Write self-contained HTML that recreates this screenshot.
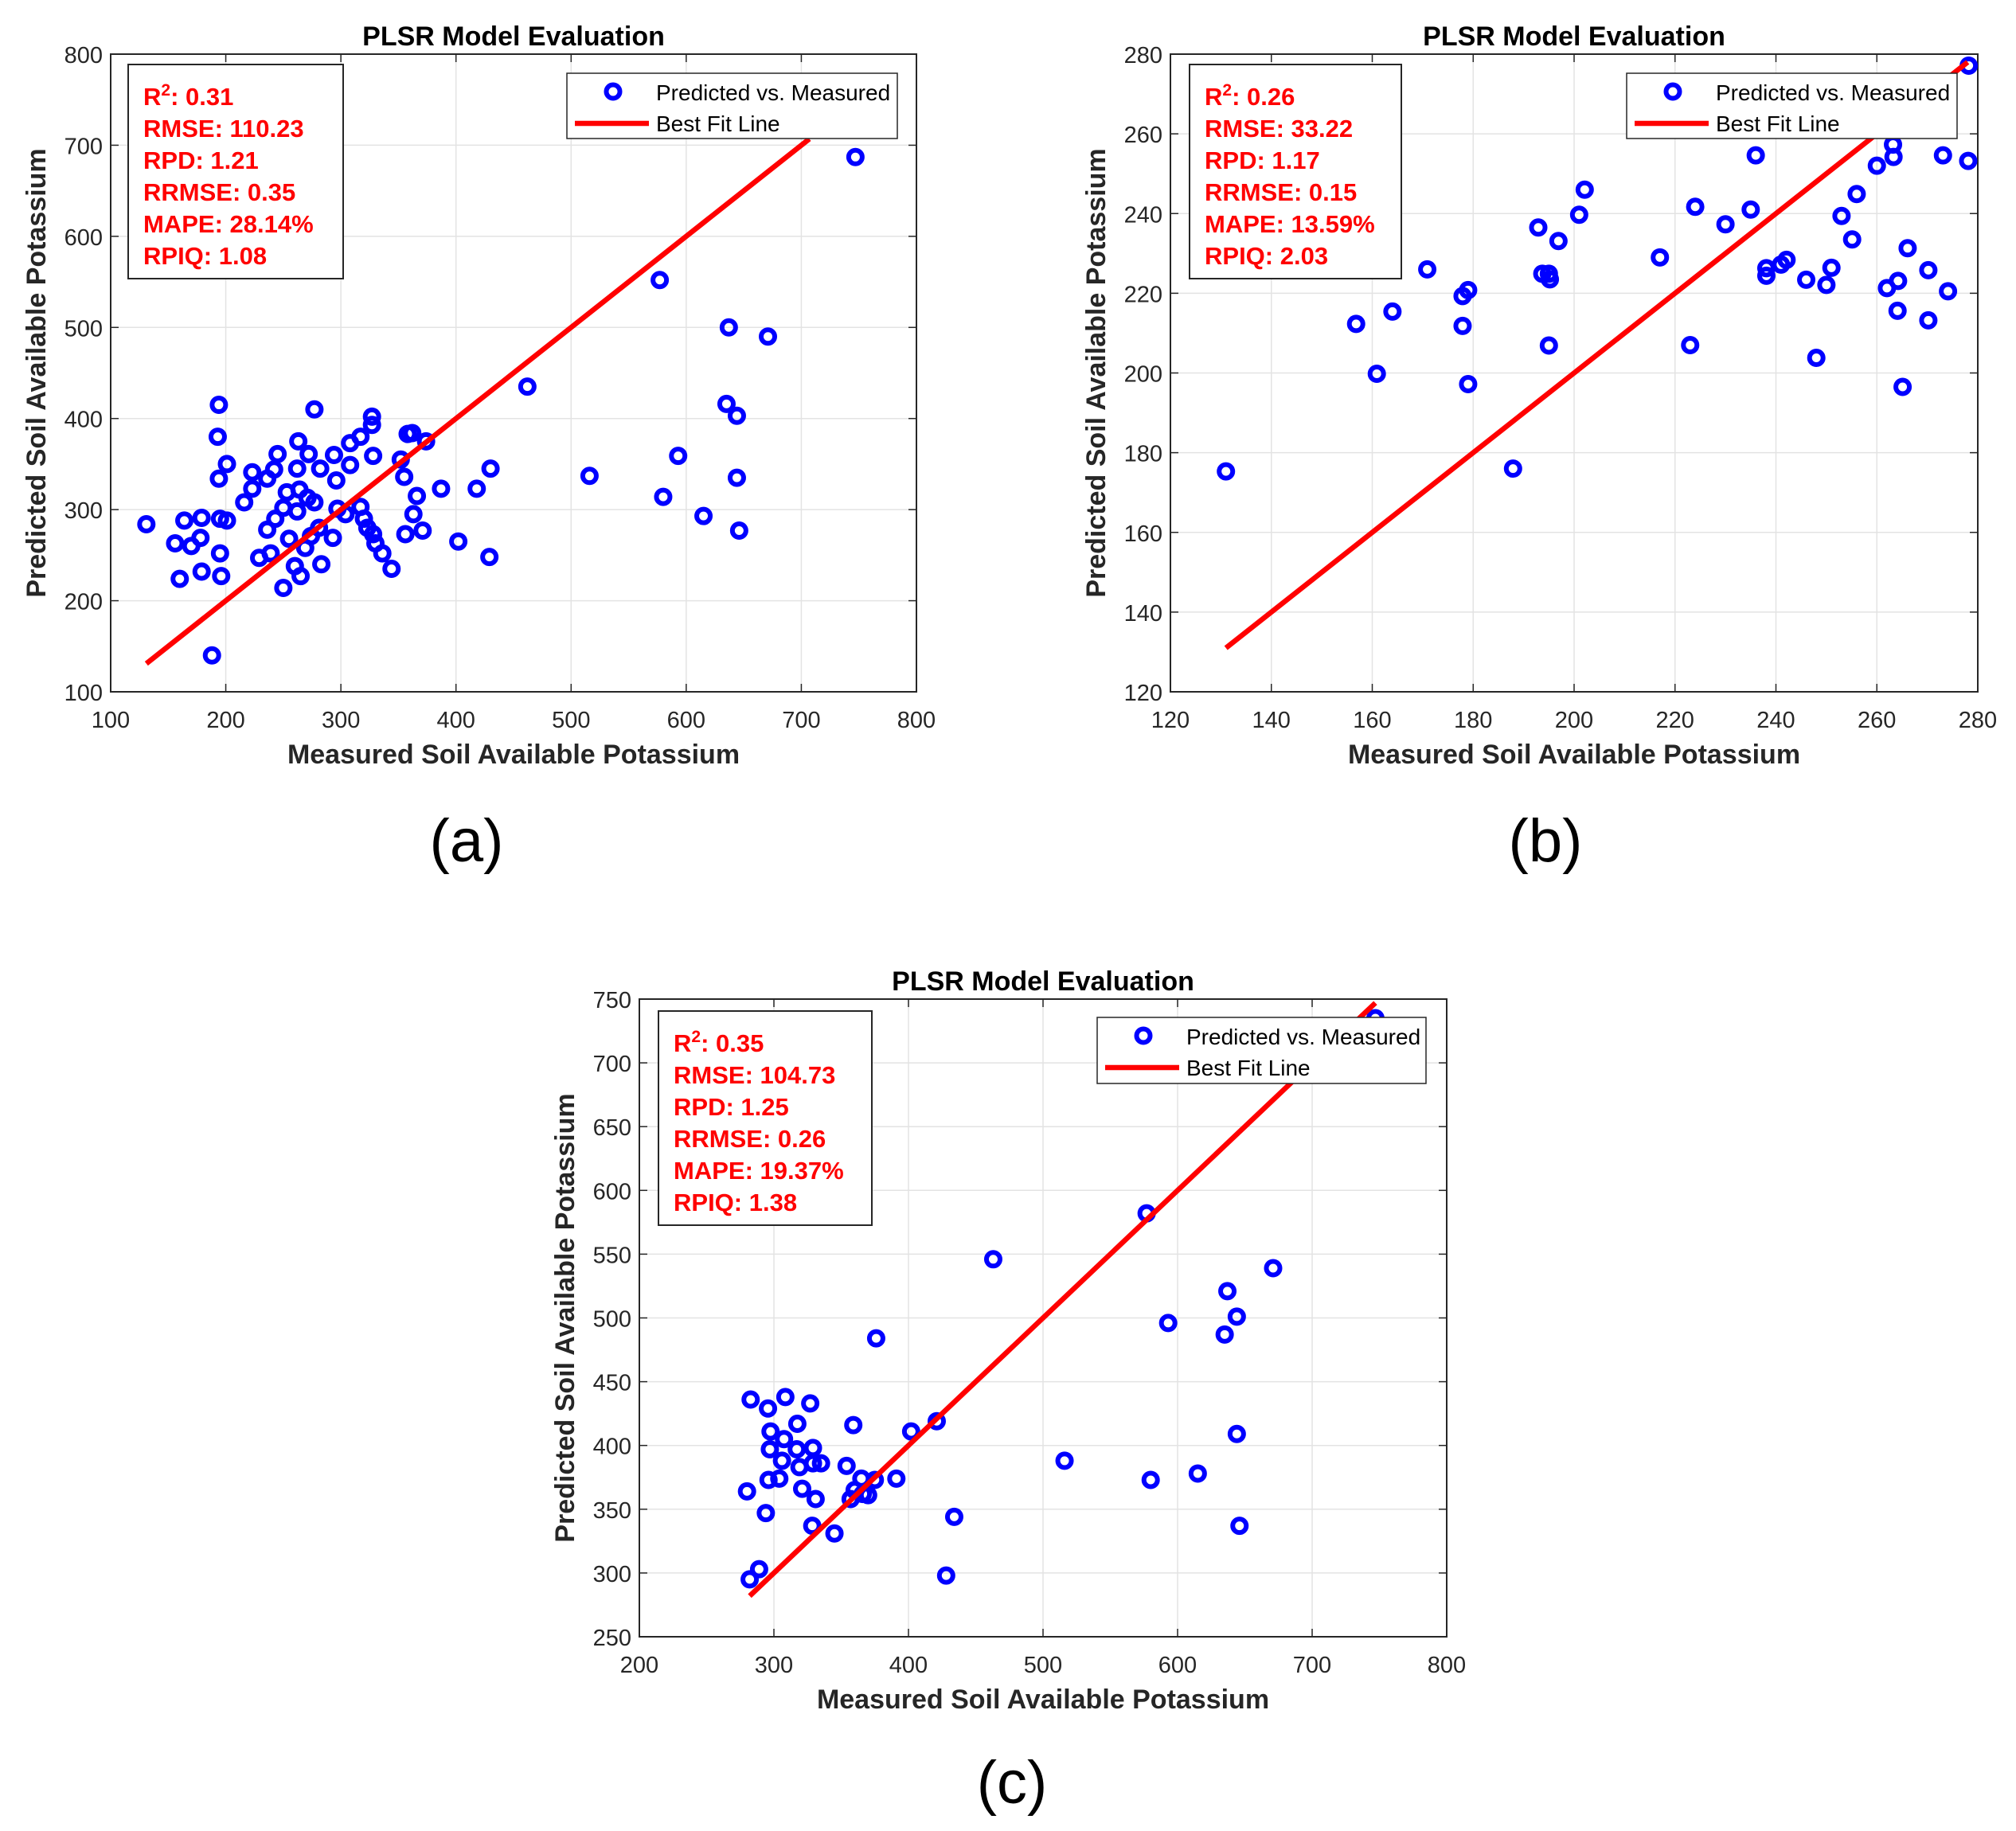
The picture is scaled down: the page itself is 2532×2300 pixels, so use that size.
<!DOCTYPE html>
<html><head><meta charset="utf-8"><style>
html,body{margin:0;padding:0;background:#fff;}
svg{display:block;}
text{font-family:"Liberation Sans",Arial,sans-serif;}
</style></head><body>
<svg id="fig" width="2532" height="2300" viewBox="0 0 2532 2300" xmlns="http://www.w3.org/2000/svg"></svg>
<script>
// ---- Chart (a) data ----
const aMeasured = [131,194,193,194,201,195,196,188,160,156,170,164,179,178,179,195,201,216,223,223,229,239,236,243,245,242,236,253,250,255,260,265,263,262,264,262,250,272,277,282,277,271,269,274,283,281,293,294,296,297,304,308,308,317,327,327,328,317,320,323,328,330,336,344,352,355,358,362,374,366,363,356,371,387,418,430,402,429,462,516,577,580,593,615,637,671,635,644,644,646,747];
const aPredicted = [284,415,380,334,350,252,227,140,224,263,260,288,291,269,232,290,288,308,341,323,247,252,278,290,361,344,334,319,214,268,238,227,375,345,322,298,302,361,410,345,308,313,258,271,240,280,269,360,332,301,295,373,349,380,402,393,359,303,290,280,273,263,252,235,355,336,383,384,375,315,295,273,277,323,323,345,265,248,435,337,552,314,359,293,500,490,416,403,335,277,687];
const aFit = [131,707];
const aXTicks = [100,200,300,400,500,600,700,800];
const aYTicks = [100,200,300,400,500,600,700,800];
const aStats = ["0.31","RMSE: 110.23","RPD: 1.21","RRMSE: 0.35","MAPE: 28.14%","RPIQ: 1.08"];
// ---- Chart (b) data ----
const bMeasured = [131,156.8,160.9,164,170.9,177.9,179,177.9,179,187.9,192.9,193.7,195,195.2,195,196.9,201,202.1,217,223,224,230,235,236,238.1,238.1,241,242.1,246,248,250,251,253,255.1,256,260,262,263.2,263.3,264.2,264.1,265.1,266.1,270.2,270.2,273.1,274.1,278.2,278.1];
const bPredicted = [175.3,212.3,199.8,215.4,226,219.3,220.8,211.8,197.2,176,236.5,224.9,224.9,223.5,206.9,233.1,239.7,246,229,207,241.7,237.3,241,254.6,226.3,224.4,227.2,228.4,223.4,203.8,222.1,226.4,239.4,233.5,244.9,252,221.3,257.3,254.2,223.1,215.6,196.5,231.3,225.8,213.2,254.6,220.5,277.1,253.2];
const bFit = [131,278];
const bXTicks = [120,140,160,180,200,220,240,260,280];
const bYTicks = [120,140,160,180,200,220,240,260,280];
const bStats = ["0.26","RMSE: 33.22","RPD: 1.17","RRMSE: 0.15","MAPE: 13.59%","RPIQ: 2.03"];
// ---- Chart (c) data ----
const cMeasured = [282.7,295.6,308.5,327,317.4,359,297.5,307.5,297,306,317,329,319,335,329,354,296,304,280,321,331,294,328.5,345,282,289,365,375,360,357,366,370,391,376,402,421,434,428,463,516,577,580,593,615,637,635,644,644,646,671,747];
const cPredicted = [436,429,438,433,417,416,411,405,397,388,397,398,383,386,386,384,373,374,364,366,358,347,337,331,295,303,374,373,365,358,362,361,374,484,411,419,344,298,546,388,582,373,496,378,521,487,501,409,337,539,735];
const cFit = [282,747];
const cXTicks = [200,300,400,500,600,700,800];
const cYTicks = [250,300,350,400,450,500,550,600,650,700,750];
const cStats = ["0.35","RMSE: 104.73","RPD: 1.25","RRMSE: 0.26","MAPE: 19.37%","RPIQ: 1.38"];

const NS = "http://www.w3.org/2000/svg";
const svg = document.getElementById('fig');
function mk(tag, attrs, parent) {
  const e = document.createElementNS(NS, tag);
  for (const k in attrs) e.setAttribute(k, attrs[k]);
  (parent || svg).appendChild(e);
  return e;
}

function drawChart(id, L, R, T, B, xs, ys, xT, yT, fit, stats, tbox, lbox, panelLabel, panelPos) {
  const g = mk('g', {});
  
  
  const xmin = xT[0], xmax = xT[xT.length - 1], ymin = yT[0], ymax = yT[yT.length - 1];
  const sx = v => L + (v - xmin) / (xmax - xmin) * (R - L);
  const sy = v => B - (v - ymin) / (ymax - ymin) * (B - T);
  xT.forEach(t => {
    const l = mk('line', {x1: sx(t), x2: sx(t), y1: T, y2: B, stroke: '#e3e3e3', 'stroke-width': 1.5}, g);
    
    
  });
  yT.forEach(t => {
    const l = mk('line', {x1: L, x2: R, y1: sy(t), y2: sy(t), stroke: '#e3e3e3', 'stroke-width': 1.5}, g);
    
    
  });
  xT.forEach(t => {
    mk('line', {x1: sx(t), x2: sx(t), y1: B, y2: B - 10, stroke: '#262626', 'stroke-width': 1.5}, g);
    mk('line', {x1: sx(t), x2: sx(t), y1: T, y2: T + 10, stroke: '#262626', 'stroke-width': 1.5}, g);
    const tx = mk('text', {x: sx(t), y: B + 45, 'text-anchor': 'middle', 'font-size': 29, fill: '#262626'}, g);
    
    
    tx.textContent = t;
  });
  yT.forEach(t => {
    mk('line', {x1: L, x2: L + 10, y1: sy(t), y2: sy(t), stroke: '#262626', 'stroke-width': 1.5}, g);
    mk('line', {x1: R, x2: R - 10, y1: sy(t), y2: sy(t), stroke: '#262626', 'stroke-width': 1.5}, g);
    const tx = mk('text', {x: L - 10, y: sy(t) + 11, 'text-anchor': 'end', 'font-size': 29, fill: '#262626'}, g);
    
    
    tx.textContent = t;
  });
  const fr = mk('rect', {x: L, y: T, width: R - L, height: B - T, fill: 'none', stroke: '#262626', 'stroke-width': 2}, g);
  
  
  xs.forEach((v, i) => {
    const c = mk('circle', {cx: sx(v), cy: sy(ys[i]), r: 8.5, fill: 'none', stroke: '#0000ff', 'stroke-width': 6}, g);
    
    
  });
  const fl = mk('line', {x1: sx(fit[0]), y1: sy(fit[0]), x2: sx(fit[1]), y2: sy(fit[1]), stroke: '#ff0000', 'stroke-width': 6.5}, g);
  
  
  const ti = mk('text', {x: (L + R) / 2, y: T - 11, 'text-anchor': 'middle', 'font-size': 34, 'font-weight': 'bold', fill: '#000'}, g);
  
  
  ti.textContent = 'PLSR Model Evaluation';
  const xl = mk('text', {x: (L + R) / 2, y: B + 90, 'text-anchor': 'middle', 'font-size': 34, 'font-weight': 'bold', fill: '#262626'}, g);
  
  
  xl.textContent = 'Measured Soil Available Potassium';
  const yx = L - 82, yy = (T + B) / 2;
  const yl = mk('text', {x: yx, y: yy, 'text-anchor': 'middle', 'font-size': 34, 'font-weight': 'bold', fill: '#262626', transform: `rotate(-90 ${yx} ${yy})`}, g);
  
  
  yl.textContent = 'Predicted Soil Available Potassium';
  const sb = mk('rect', {x: tbox[0], y: tbox[1], width: tbox[2], height: tbox[3], fill: '#fff', stroke: '#262626', 'stroke-width': 2}, g);
  
  
  stats.forEach((s, i) => {
    const t = mk('text', {x: tbox[0] + 19, y: tbox[1] + 51 + i * 40, 'font-size': 31, 'font-weight': 'bold', fill: '#ff0000'}, g);
    
    
    if (i === 0) {
      const a = mk('tspan', {}, t); a.textContent = 'R';
      const b = mk('tspan', {dy: -12, 'font-size': 21}, t); b.textContent = '2';
      const c = mk('tspan', {dy: 12}, t); c.textContent = ': ' + s;
    } else t.textContent = s;
  });
  const lg = mk('rect', {x: lbox[0], y: lbox[1], width: lbox[2], height: lbox[3], fill: '#fff', stroke: '#262626', 'stroke-width': 1.5}, g);
  
  
  const lc = mk('circle', {cx: lbox[0] + 58, cy: lbox[1] + 23, r: 8.5, fill: 'none', stroke: '#0000ff', 'stroke-width': 6}, g);
  
  
  const lt1 = mk('text', {x: lbox[0] + 112, y: lbox[1] + 34, 'font-size': 28, fill: '#000'}, g);
  
  
  lt1.textContent = 'Predicted vs. Measured';
  const ll = mk('line', {x1: lbox[0] + 10, x2: lbox[0] + 103, y1: lbox[1] + 63, y2: lbox[1] + 63, stroke: '#ff0000', 'stroke-width': 6.5}, g);
  
  
  const lt2 = mk('text', {x: lbox[0] + 112, y: lbox[1] + 73, 'font-size': 28, fill: '#000'}, g);
  
  
  lt2.textContent = 'Best Fit Line';
  const pl = mk('text', {x: panelPos[0], y: panelPos[1], 'text-anchor': 'middle', 'font-size': 76, fill: '#000', 'font-family': '"Liberation Serif", serif'}, g);
  
  
  pl.textContent = panelLabel;
}

drawChart('a', 139, 1151, 68, 869, aMeasured, aPredicted, aXTicks, aYTicks, aFit, aStats,
  [161, 81, 270, 269], [712, 92, 415, 82], '(a)', [586, 1082]);
drawChart('b', 1470, 2484, 68, 869, bMeasured, bPredicted, bXTicks, bYTicks, bFit, bStats,
  [1494, 81, 266, 269], [2043, 92, 415, 82], '(b)', [1941, 1082]);
drawChart('c', 803, 1817, 1255, 2056, cMeasured, cPredicted, cXTicks, cYTicks, cFit, cStats,
  [827, 1270, 268, 269], [1378, 1278, 413, 83], '(c)', [1271, 2265]);
</script>
</body></html>
